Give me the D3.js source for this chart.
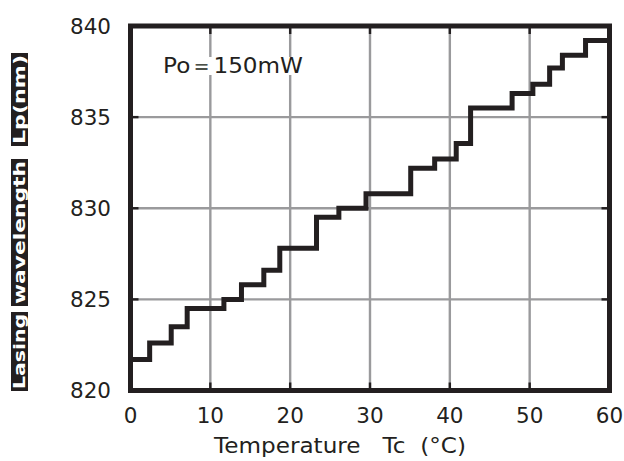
<!DOCTYPE html>
<html>
<head>
<meta charset="utf-8">
<script src="https://cdn.jsdelivr.net/npm/d3@7"></script>
<style>
  body { margin: 0; background: #fff; }
  svg { display: block; }
  text { font-family: "DejaVu Sans", "Liberation Sans", sans-serif; fill: #231f20; }
</style>
</head>
<body>
<div id="chart"></div>
<script>
// Step data: temperature where each level starts, and the wavelength of that level
const temps = [0, 2.4, 5.1, 7.1, 11.7, 13.9, 16.7, 18.7, 23.3, 26.1, 29.5, 35.1, 38.1, 40.8, 42.6, 47.8, 50.4, 52.5, 54.1, 57.0, 60];
const wavelengths = [821.7, 822.6, 823.5, 824.5, 825.0, 825.8, 826.6, 827.8, 829.5, 830.0, 830.8, 832.2, 832.7, 833.55, 835.5, 836.3, 836.8, 837.7, 838.4, 839.2, 839.2];
const xTicks = [0, 10, 20, 30, 40, 50, 60];
const yTicks = [820, 825, 830, 835, 840];
const yLabelParts = ["Lasing", "wavelength", "Lp(nm)"];

const width = 624, height = 461;
const plotLeft = 130.5, plotRight = 609.5, plotTop = 26, plotBottom = 390.5;
const ink = '#231f20';

const svg = d3.select('#chart').append('svg')
    .attr('width', width)
    .attr('height', height);

const x = d3.scaleLinear().domain([0, 60]).range([plotLeft, plotRight]);
const y = d3.scaleLinear().domain([820, 840]).range([plotBottom, plotTop]);

// grid
svg.append('g').selectAll('line')
    .data(xTicks.slice(1, -1))
    .enter().append('line')
    .attr('x1', d => x(d)).attr('x2', d => x(d))
    .attr('y1', plotTop).attr('y2', plotBottom)
    .attr('stroke', '#9a9a9c').attr('stroke-width', 2.4);

svg.append('g').selectAll('line')
    .data(yTicks.slice(1, -1))
    .enter().append('line')
    .attr('x1', plotLeft).attr('x2', plotRight)
    .attr('y1', d => y(d)).attr('y2', d => y(d))
    .attr('stroke', '#9a9a9c').attr('stroke-width', 2.4);

// inner tick marks
const tickLen = 8;
const ticks = svg.append('g').attr('stroke', ink).attr('stroke-width', 2.4);
xTicks.slice(1, -1).forEach(d => {
    ticks.append('line').attr('x1', x(d)).attr('x2', x(d)).attr('y1', plotTop).attr('y2', plotTop + tickLen);
    ticks.append('line').attr('x1', x(d)).attr('x2', x(d)).attr('y1', plotBottom).attr('y2', plotBottom - tickLen);
});
yTicks.slice(1, -1).forEach(d => {
    ticks.append('line').attr('x1', plotLeft).attr('x2', plotLeft + tickLen).attr('y1', y(d)).attr('y2', y(d));
    ticks.append('line').attr('x1', plotRight).attr('x2', plotRight - tickLen).attr('y1', y(d)).attr('y2', y(d));
});

// annotation with white backing that breaks the grid
const noteBg = svg.append('rect').attr('fill', '#fff');
const note = svg.append('text')
    .attr('x', 163).attr('y', 73)
    .attr('font-size', 21)
    .attr('textLength', 140)
    .attr('lengthAdjust', 'spacingAndGlyphs')
    .text('Po＝150mW');
const nb = note.node().getBBox();
noteBg
    .attr('x', nb.x - 2).attr('y', nb.y + 3)
    .attr('width', nb.width + 4).attr('height', nb.height - 6);

// step line
const line = d3.line()
    .x((d, i) => x(temps[i]))
    .y(d => y(d))
    .curve(d3.curveStepAfter);

svg.append('path')
    .datum(wavelengths)
    .attr('d', line)
    .attr('fill', 'none')
    .attr('stroke', ink)
    .attr('stroke-width', 5)
    .attr('stroke-linejoin', 'miter')
    .attr('stroke-linecap', 'square');

// frame
svg.append('rect')
    .attr('x', plotLeft).attr('y', plotTop)
    .attr('width', plotRight - plotLeft).attr('height', plotBottom - plotTop)
    .attr('fill', 'none')
    .attr('stroke', ink)
    .attr('stroke-width', 5);

// tick labels
svg.append('g').selectAll('text')
    .data(yTicks)
    .enter().append('text')
    .attr('x', 111).attr('y', d => y(d))
    .attr('dy', '0.36em')
    .attr('text-anchor', 'end')
    .attr('font-size', 21.5)
    .text(d => d);

svg.append('g').selectAll('text')
    .data(xTicks)
    .enter().append('text')
    .attr('x', d => x(d)).attr('y', 423)
    .attr('text-anchor', 'middle')
    .attr('font-size', 21.5)
    .text(d => d);

// x axis title
svg.append('text')
    .attr('x', 340).attr('y', 453)
    .attr('text-anchor', 'middle')
    .attr('font-size', 21.5)
    .attr('textLength', 252)
    .attr('lengthAdjust', 'spacingAndGlyphs')
    .attr('xml:space', 'preserve')
    .text('Temperature   Tc  (°C)');

// y axis title: white bold words on black boxes
const boxes = [
    { y0: 312, y1: 391 },
    { y0: 159, y1: 306 },
    { y0: 53, y1: 146 }
];
yLabelParts.forEach((word, i) => {
    const b = boxes[i];
    svg.append('rect')
        .attr('x', 11).attr('y', b.y0)
        .attr('width', 17).attr('height', b.y1 - b.y0)
        .attr('fill', ink);
    const cy = (b.y0 + b.y1) / 2;
    svg.append('text')
        .attr('transform', `translate(19.5,${cy}) rotate(-90)`)
        .attr('text-anchor', 'middle')
        .attr('dy', '0.35em')
        .attr('font-family', '"Liberation Sans", Arial, sans-serif')
        .attr('font-size', 15.5)
        .attr('font-weight', 'bold')
        .attr('textLength', b.y1 - b.y0 - 4)
        .attr('lengthAdjust', 'spacingAndGlyphs')
        .style('fill', '#fff')
        .text(word);
});
</script>
</body>
</html>
